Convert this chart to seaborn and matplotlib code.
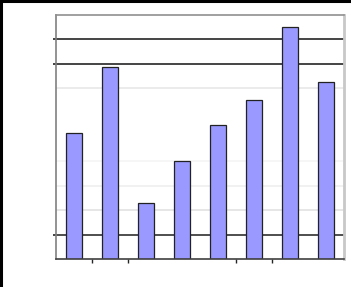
import matplotlib
matplotlib.use("Agg")
import matplotlib.pyplot as plt
import seaborn as sns
import pandas as pd

categories = ["A", "B", "C", "D", "E", "F", "G", "H"]
values = [5.15, 7.85, 2.3, 4.0, 5.5, 6.5, 9.5, 7.25]

grid_levels = [1, 2, 3, 4, 7, 8, 9]
grid_colors = ["#303030", "#e2e2e2", "#efefef", "#f5f5f5", "#e8e8e8", "#252525", "#252525"]
ytick_levels = [1, 8, 9]
xtick_pos = [0.5, 1.5, 4.5, 5.5]
xtick_colors = ["#c8c8c8", "#303030", "#303030", "#c8c8c8"]

sns.set_theme(style="white")
df = pd.DataFrame({"cat": categories, "val": values})

fig = plt.figure(figsize=(3.51, 2.87), dpi=100)
fig.patch.set_facecolor("white")
ax = fig.add_axes([56 / 351, 28 / 287, 288 / 351, 244 / 287])

for lvl, col in zip(grid_levels, grid_colors):
    ax.axhline(lvl, color=col, linewidth=1.2, zorder=0)

sns.barplot(data=df, x="cat", y="val", color="#9999FF", saturation=1,
            width=0.42, edgecolor="#222222", linewidth=0.9, ax=ax, zorder=2)

ax.set_xlim(-0.5, 7.5)
ax.set_ylim(0, 10)
ax.set_xlabel("")
ax.set_ylabel("")
ax.set_yticks(ytick_levels)
ax.set_yticklabels([])
ax.set_xticks(xtick_pos)
ax.set_xticklabels([])
ax.tick_params(axis="x", length=3, width=1, direction="out", bottom=True)
ax.tick_params(axis="y", length=2, width=1.2, direction="out", left=True, color="#252525")
for tl, col in zip(ax.xaxis.get_ticklines()[0::2], xtick_colors):
    tl.set_color(col)

ax.spines["left"].set_color("#808080")
ax.spines["left"].set_linewidth(1.2)
ax.spines["top"].set_color("#909090")
ax.spines["top"].set_linewidth(1.2)
ax.spines["right"].set_color("#c8c8c8")
ax.spines["right"].set_linewidth(2)
ax.spines["bottom"].set_color("#404040")
ax.spines["bottom"].set_linewidth(1.2)
for s in ax.spines.values():
    s.set_visible(True)

# figure border: left and top black lines
fig.add_artist(plt.Line2D([1 / 351, 1 / 351], [0, 1], color="black", linewidth=2.2, transform=fig.transFigure))
fig.add_artist(plt.Line2D([0, 1], [1 - 1 / 287, 1 - 1 / 287], color="black", linewidth=2.2, transform=fig.transFigure))

fig.savefig("out.png", dpi=100, facecolor="white")
